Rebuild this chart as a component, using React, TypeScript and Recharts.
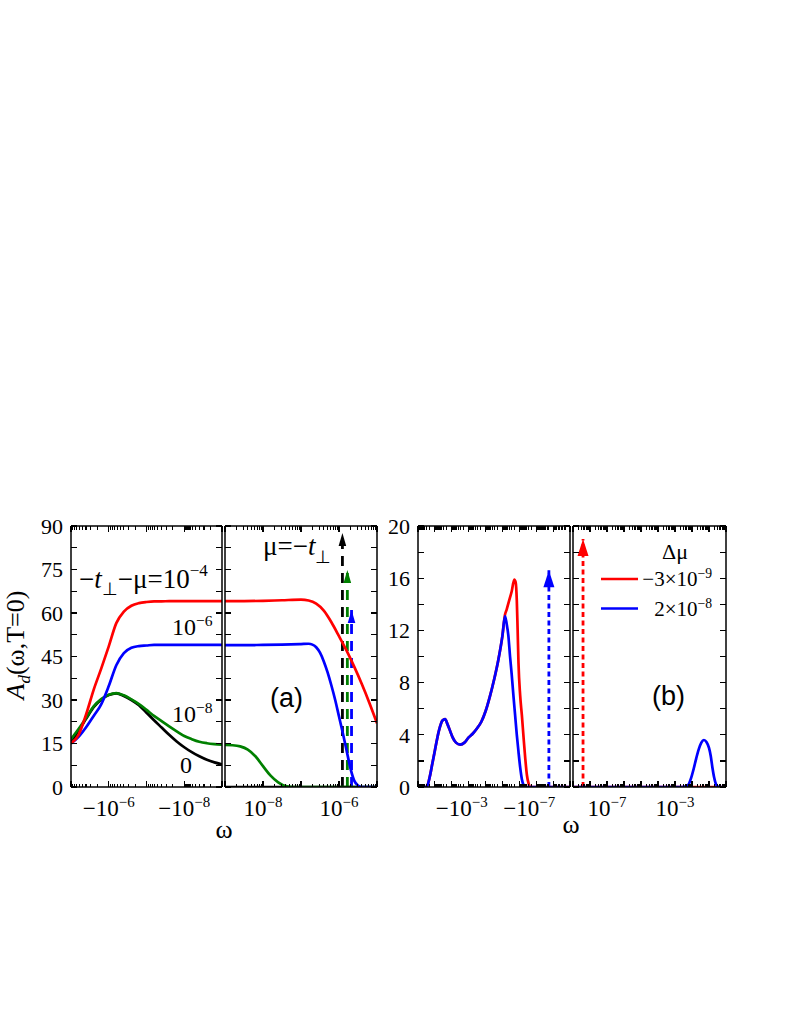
import React from "react";
import { LineChart, Line, XAxis, YAxis, Legend } from "recharts";

const SERIF = "'Liberation Serif', 'Times New Roman', serif";
const SANS = "'Liberation Sans', Arial, sans-serif";

// x values are stored as log10|ω|

// panel (a), ω < 0 : curves for -t⊥-μ = 1e-4 (red), 1e-6 (blue), 1e-8 (green), 0 (black)
const aNegLog = [-5.0, -5.2, -5.4, -5.6, -5.8, -6.0, -6.2, -6.4, -6.6, -6.8, -7.0, -7.2, -7.4, -7.6, -7.8, -8.0, -8.2, -8.4, -8.6, -8.8, -9.0];
const aNegRed = [15.0, 18.0, 25.0, 33.5, 40.8, 48.5, 56.5, 60.5, 62.5, 63.4, 63.8, 64.0, 64.0, 64.1, 64.1, 64.1, 64.1, 64.1, 64.1, 64.1, 64.1];
const aNegBlue = [15.0, 17.3, 20.6, 24.5, 28.5, 34.8, 42.0, 46.2, 48.0, 48.6, 48.8, 49.0, 49.0, 49.0, 49.0, 49.0, 49.0, 49.0, 49.0, 49.0, 49.0];
const aNegGreen = [16.5, 20.0, 23.8, 27.8, 30.3, 31.8, 32.4, 31.6, 30.2, 28.6, 26.6, 24.5, 22.7, 20.9, 19.2, 17.6, 16.5, 15.6, 15.1, 14.8, 14.6];
const aNegBlack = [15.3, 19.5, 23.5, 27.5, 30.1, 31.7, 32.3, 31.4, 30.0, 28.2, 25.6, 23.0, 20.5, 18.0, 15.7, 13.7, 12.0, 10.6, 9.4, 8.5, 7.8];

// panel (a), ω > 0
const aPosRedLog = [-9, -8.5, -8, -7.5, -7.0, -6.8, -6.6, -6.4, -6.2, -6.0, -5.8, -5.6, -5.4, -5.2, -5.0];
const aPosRed = [64.1, 64.1, 64.2, 64.4, 64.6, 64.3, 63.2, 60.8, 56.8, 52.0, 47.0, 41.5, 35.5, 29.0, 22.0];
const aPosBlueLog = [-9, -8.5, -8, -7.5, -7.0, -6.8, -6.7, -6.6, -6.5, -6.4, -6.3, -6.2, -6.1, -6.0, -5.9, -5.8, -5.7, -5.6, -5.5, -5.4, -5.0];
const aPosBlue = [48.9, 48.9, 49.0, 49.1, 49.3, 49.4, 49.1, 48.2, 46.3, 43.3, 39.5, 35.0, 30.0, 24.3, 18.6, 12.6, 6.5, 2.2, 0.5, 0, 0];
const aPosGreenLog = [-9, -8.8, -8.6, -8.4, -8.2, -8.0, -7.8, -7.6, -7.4, -7.2, -5.0];
const aPosGreen = [14.5, 14.4, 14.0, 12.9, 10.6, 7.2, 3.9, 1.6, 0.3, 0, 0];
const aPosBlackLog = [-9, -5];
const aPosBlack = [0, 0];

// delta peaks (arrows) near ω = 1e-6
const aSpikeLog = [-5.91, -5.78, -5.67];
const aSpikeTop = [87.6, 74.8, 61.0];
const aSpikeColor = ["#000000", "#008000", "#0000ff"];

// panel (b), ω < 0 : Δμ = -3e-9 (red), 2e-8 (blue)
const bNegBlueLog = [0, -0.45, -0.55, -0.7, -0.85, -1.0, -1.15, -1.3, -1.45, -1.6, -1.75, -1.9, -2.05, -2.25, -2.5, -2.75, -3.0, -3.25, -3.5, -3.75, -4.0, -4.25, -4.5, -4.75, -5.0, -5.15, -5.25, -5.35, -5.45, -5.55, -5.65, -5.75, -5.85, -5.95, -6.05, -6.15, -6.25, -6.35, -9];
const bNegBlue = [0, 0, 0.1, 0.8, 1.8, 2.8, 3.8, 4.6, 5.1, 5.2, 4.8, 4.3, 3.8, 3.4, 3.25, 3.4, 3.8, 4.1, 4.5, 5.0, 5.8, 6.9, 8.2, 9.7, 11.6, 13.1, 12.5, 11.6, 10.0, 8.6, 7.0, 5.5, 4.0, 2.7, 1.5, 0.6, 0.15, 0, 0];
const bNegRedLog = [0, -0.45, -0.55, -0.7, -0.85, -1.0, -1.15, -1.3, -1.45, -1.6, -1.75, -1.9, -2.05, -2.25, -2.5, -2.75, -3.0, -3.25, -3.5, -3.75, -4.0, -4.25, -4.5, -4.75, -5.0, -5.15, -5.25, -5.4, -5.55, -5.7, -5.78, -5.85, -5.9, -5.95, -6.05, -6.15, -6.25, -6.35, -6.45, -6.55, -6.65, -9];
const bNegRed = [0, 0, 0.1, 0.8, 1.8, 2.8, 3.8, 4.6, 5.1, 5.2, 4.8, 4.3, 3.8, 3.4, 3.25, 3.4, 3.8, 4.1, 4.5, 5.0, 5.8, 6.9, 8.2, 9.7, 11.6, 13.2, 13.6, 14.3, 15.0, 15.9, 15.7, 14.3, 12.0, 9.5, 7.0, 5.5, 3.8, 2.2, 0.9, 0.25, 0, 0];

// panel (b), ω > 0
const bPosBlueLog = [-9, -2.6, -2.35, -2.2, -2.05, -1.9, -1.75, -1.6, -1.45, -1.3, -1.15, -1.0, -0.9, -0.8, -0.7, -0.6, -0.5, -0.4, 0];
const bPosBlue = [0, 0, 0.05, 0.2, 0.7, 1.4, 2.2, 2.9, 3.4, 3.6, 3.45, 3.0, 2.4, 1.5, 0.75, 0.25, 0.05, 0, 0];
const bPosRedLog = [-9, 0];
const bPosRed = [0, 0];

const bNegSpikeLog = [-7.75];
const bNegSpikeTop = [16.6];
const bPosSpikeLog = [-8.41];
const bPosSpikeTop = [19.0];

const legendNames = ["−3×10^−9", "2×10^−8"];

// axis ticks
const aYTicks = [0, 7.5, 15, 22.5, 30, 37.5, 45, 52.5, 60, 67.5, 75, 82.5, 90];
const bYTicks = [0, 2, 4, 6, 8, 10, 12, 14, 16, 18, 20];
const aNegLabelAt = [-6, -8];
const aNegLabelText = ["−10^−6", "−10^−8"];
const aPosLabelAt = [-8, -6];
const aPosLabelText = ["10^−8", "10^−6"];
const bNegLabelAt = [-3, -7];
const bNegLabelText = ["−10^−3", "−10^−7"];
const bPosLabelAt = [-7, -3];
const bPosLabelText = ["10^−7", "10^−3"];

const TOP = 500;
const H = 340;
const TOP_AX = 26;
const BOT_AX = 53;

type Curve = { xs: number[]; ys: number[]; color: string; name?: string };
type Spike = { at: number; top: number; color: string };

const toPts = (xs: number[], ys: number[]) => xs.map((x, i) => ({ x, y: ys[i] }));

function logTicks(lo: number, hi: number) {
  const t: number[] = [];
  for (let n = lo; n < hi; n++) {
    t.push(n);
    for (let k = 2; k <= 9; k++) t.push(n + Math.log10(k));
  }
  t.push(hi);
  return t;
}

const isInt = (v: number) => Math.abs(v - Math.round(v)) < 1e-6;

function SupText({ x, y, text, size, anchor = "middle" }: any) {
  const [base, exp] = String(text).split("^");
  return (
    <text x={x} y={y} textAnchor={anchor} fontFamily={SERIF} fontSize={size} fill="#000">
      <tspan>{base}</tspan>
      {exp && (
        <tspan dy={-size * 0.37} fontSize={size * 0.65}>
          {exp}
        </tspan>
      )}
    </text>
  );
}

function renderLegend(props: any) {
  const items = (props.payload || [])
    .filter((e: any) => legendNames.includes(String(e.value)))
    .sort((a: any, b: any) => legendNames.indexOf(String(a.value)) - legendNames.indexOf(String(b.value)));
  return (
    <svg width={120} height={90} style={{ overflow: "visible" }}>
      <text x={61} y={24} fontFamily={SERIF} fontSize={22} fill="#000">
        Δμ
      </text>
      {items.map((e: any, i: number) => (
        <g key={i}>
          <line x1={0} x2={37} y1={44 + i * 29.5} y2={44 + i * 29.5} stroke={e.color} strokeWidth={2.6} />
          <SupText x={111} y={51 + i * 29.5} text={e.value} size={21} anchor="end" />
        </g>
      ))}
    </svg>
  );
}

type PanelProps = {
  left: number;
  width: number;
  leftW: number;
  domain: [number, number];
  reversed?: boolean;
  labelAt: number[];
  labelText: string[];
  labelShift?: number;
  yMax: number;
  yTicks: number[];
  yLabelStep: number;
  showY: boolean;
  curves: Curve[];
  spikes: Spike[];
  dash: string;
  head: [number, number];
  legend?: boolean;
};

function Panel(p: PanelProps) {
  const xt = logTicks(p.domain[0], p.domain[1]);
  const lab = (v: number) => {
    const i = p.labelAt.findIndex((a) => Math.abs(a - v) < 1e-6);
    return i >= 0 ? p.labelText[i] : null;
  };

  const bottomTick = (t: any) => {
    const v = t.payload.value;
    const s = lab(v);
    const x = Number(t.x);
    const y = Number(t.y);
    const len = isInt(v) ? 6 : 3.5;
    return (
      <g>
        <path d={`M${x},${y} V${y - len}`} stroke="#000" strokeWidth={1.2} fill="none" shapeRendering="crispEdges" />
        {s && <SupText x={x + (p.labelShift || 0)} y={y + 29} text={s} size={23} />}
      </g>
    );
  };
  const topTick = (t: any) => {
    const v = t.payload.value;
    const x = Number(t.x);
    const y = Number(t.y);
    return (
      <path
        d={`M${x},${y} V${y + (isInt(v) ? 6 : 3.5)}`}
        stroke="#000"
        strokeWidth={1.2}
        fill="none"
        shapeRendering="crispEdges"
      />
    );
  };
  const leftTick = (t: any) => {
    const v = t.payload.value;
    const x = Number(t.x);
    const y = Number(t.y);
    const major = isInt(v / p.yLabelStep);
    return (
      <g>
        <path d={`M${x},${y} H${x + 6}`} stroke="#000" strokeWidth={1.2} fill="none" shapeRendering="crispEdges" />
        {p.showY && major && (
          <text x={x - 8} y={y} dy="0.35em" textAnchor="end" fontFamily={SERIF} fontSize={22} fill="#000">
            {v}
          </text>
        )}
      </g>
    );
  };
  const rightTick = (t: any) => {
    const x = Number(t.x);
    const y = Number(t.y);
    return <path d={`M${x},${y} H${x - 6}`} stroke="#000" strokeWidth={1.2} fill="none" shapeRendering="crispEdges" />;
  };

  const head = (color: string) => (d: any) => {
    if (d.index !== 1) return <g key={`n${d.index}`} />;
    const [w, h] = p.head;
    return (
      <path
        key={`h${d.index}`}
        d={`M${d.cx},${d.cy} L${d.cx - w},${d.cy + h} L${d.cx + w},${d.cy + h} Z`}
        fill={color}
      />
    );
  };

  const axisLine = { stroke: "#000", strokeWidth: 1.5 };

  return (
    <div style={{ position: "absolute", left: p.left, top: TOP }}>
      <LineChart width={p.width} height={H} margin={{ top: 0, right: 0, bottom: 0, left: 0 }}>
        <XAxis
          xAxisId="b"
          type="number"
          dataKey="x"
          domain={p.domain}
          reversed={p.reversed}
          ticks={xt}
          interval={0}
          tickSize={0}
          tickMargin={0}
          height={BOT_AX}
          axisLine={axisLine}
          tickLine={false}
          tick={bottomTick}
          allowDataOverflow
        />
        <XAxis
          xAxisId="t"
          orientation="top"
          type="number"
          dataKey="x"
          domain={p.domain}
          reversed={p.reversed}
          ticks={xt}
          interval={0}
          tickSize={0}
          tickMargin={0}
          height={TOP_AX}
          axisLine={axisLine}
          tickLine={false}
          tick={topTick}
          allowDataOverflow
        />
        <YAxis
          yAxisId="l"
          type="number"
          domain={[0, p.yMax]}
          ticks={p.yTicks}
          interval={0}
          tickSize={0}
          tickMargin={0}
          width={p.leftW}
          axisLine={axisLine}
          tickLine={false}
          tick={leftTick}
          allowDataOverflow
        />
        <YAxis
          yAxisId="r"
          orientation="right"
          type="number"
          domain={[0, p.yMax]}
          ticks={p.yTicks}
          interval={0}
          tickSize={0}
          tickMargin={0}
          width={2}
          axisLine={axisLine}
          tickLine={false}
          tick={rightTick}
          allowDataOverflow
        />
        {p.spikes.map((s, i) => (
          <Line
            key={`s${i}`}
            xAxisId="b"
            yAxisId="l"
            data={[
              { x: s.at, y: 0 },
              { x: s.at, y: s.top },
            ]}
            dataKey="y"
            type="linear"
            stroke={s.color}
            strokeWidth={2.8}
            strokeDasharray={p.dash}
            dot={head(s.color)}
            activeDot={false}
            legendType="none"
            isAnimationActive={false}
          />
        ))}
        {p.curves.map((c, i) => (
          <Line
            key={`c${i}`}
            xAxisId="b"
            yAxisId="l"
            data={toPts(c.xs, c.ys)}
            dataKey="y"
            name={c.name}
            type="monotone"
            stroke={c.color}
            strokeWidth={2.7}
            dot={false}
            activeDot={false}
            legendType={c.name ? "line" : "none"}
            isAnimationActive={false}
          />
        ))}
        {p.legend && (
          <Legend
            content={renderLegend}
            layout="vertical"
            align="center"
            verticalAlign="middle"
            wrapperStyle={{ left: 30, top: 35, width: 120, height: 90 }}
          />
        )}
      </LineChart>
    </div>
  );
}

export default function App() {
  return (
    <div style={{ position: "absolute", left: 0, top: 0, width: 789, height: 1021, background: "#fff" }}>
      <Panel
        left={0}
        width={224}
        leftW={71}
        domain={[-9, -5]}
        reversed
        labelAt={aNegLabelAt}
        labelText={aNegLabelText}
        yMax={90}
        yTicks={aYTicks}
        yLabelStep={15}
        showY
        curves={[
          { xs: aNegLog, ys: aNegBlack, color: "#000000" },
          { xs: aNegLog, ys: aNegGreen, color: "#008000" },
          { xs: aNegLog, ys: aNegBlue, color: "#0000ff" },
          { xs: aNegLog, ys: aNegRed, color: "#ff0000" },
        ]}
        spikes={[]}
        dash="10 7"
        head={[3.8, 13]}
      />
      <Panel
        left={223}
        width={156}
        leftW={2}
        domain={[-9, -5]}
        labelAt={aPosLabelAt}
        labelText={aPosLabelText}
        yMax={90}
        yTicks={aYTicks}
        yLabelStep={15}
        showY={false}
        curves={[
          { xs: aPosBlackLog, ys: aPosBlack, color: "#000000" },
          { xs: aPosGreenLog, ys: aPosGreen, color: "#008000" },
          { xs: aPosBlueLog, ys: aPosBlue, color: "#0000ff" },
          { xs: aPosRedLog, ys: aPosRed, color: "#ff0000" },
        ]}
        spikes={aSpikeLog.map((at, i) => ({ at, top: aSpikeTop[i], color: aSpikeColor[i] }))}
        dash="10 7"
        head={[3.8, 13]}
      />
      <Panel
        left={360}
        width={212}
        leftW={58}
        domain={[-9, 0]}
        reversed
        labelAt={bNegLabelAt}
        labelText={bNegLabelText}
        labelShift={-7}
        yMax={20}
        yTicks={bYTicks}
        yLabelStep={4}
        showY
        curves={[
          { xs: bNegRedLog, ys: bNegRed, color: "#ff0000" },
          { xs: bNegBlueLog, ys: bNegBlue, color: "#0000ff" },
        ]}
        spikes={bNegSpikeLog.map((at, i) => ({ at, top: bNegSpikeTop[i], color: "#0000ff" }))}
        dash="5 3.5"
        head={[5.5, 17]}
      />
      <Panel
        left={571}
        width={157}
        leftW={2}
        domain={[-9, 0]}
        labelAt={bPosLabelAt}
        labelText={bPosLabelText}
        yMax={20}
        yTicks={bYTicks}
        yLabelStep={4}
        showY={false}
        curves={[
          { xs: bPosRedLog, ys: bPosRed, color: "#ff0000", name: legendNames[0] },
          { xs: bPosBlueLog, ys: bPosBlue, color: "#0000ff", name: legendNames[1] },
        ]}
        spikes={bPosSpikeLog.map((at, i) => ({ at, top: bPosSpikeTop[i], color: "#ff0000" }))}
        dash="5 3.5"
        head={[5.5, 17]}
        legend
      />
      <svg
        width={789}
        height={1021}
        style={{ position: "absolute", left: 0, top: 0, pointerEvents: "none" }}
        fontFamily={SERIF}
      >
        <text transform="rotate(-90 24 645)" x={24} y={645} textAnchor="middle" fontSize={26} fill="#000">
          <tspan fontStyle="italic">A</tspan>
          <tspan fontStyle="italic" fontSize={17} dy={6}>
            d
          </tspan>
          <tspan dy={-6}>(ω,T=0)</tspan>
        </text>
        <text x={79} y={588} fontSize={27} fill="#000">
          <tspan>−</tspan>
          <tspan fontStyle="italic">t</tspan>
          <tspan fontSize={18} dy={7}>
            ⊥
          </tspan>
          <tspan dy={-7}>−μ=10</tspan>
          <tspan fontSize={17} dy={-12}>
            −4
          </tspan>
        </text>
        <SupText x={172} y={635} text="10^−6" size={24} anchor="start" />
        <SupText x={172} y={722} text="10^−8" size={24} anchor="start" />
        <text x={186} y={773} textAnchor="middle" fontSize={24} fill="#000">
          0
        </text>
        <text x={263} y={555} fontSize={27} fill="#000">
          <tspan>μ=−</tspan>
          <tspan fontStyle="italic">t</tspan>
          <tspan fontSize={18} dy={8}>
            ⊥
          </tspan>
        </text>
        <text x={270} y={707} fontFamily={SANS} fontSize={27} fill="#000">
          (a)
        </text>
        <text x={652} y={705} fontFamily={SANS} fontSize={27} fill="#000">
          (b)
        </text>
        <text x={224} y={838} textAnchor="middle" fontSize={26} fill="#000">
          ω
        </text>
        <text x={571} y={833} textAnchor="middle" fontSize={26} fill="#000">
          ω
        </text>
      </svg>
    </div>
  );
}
